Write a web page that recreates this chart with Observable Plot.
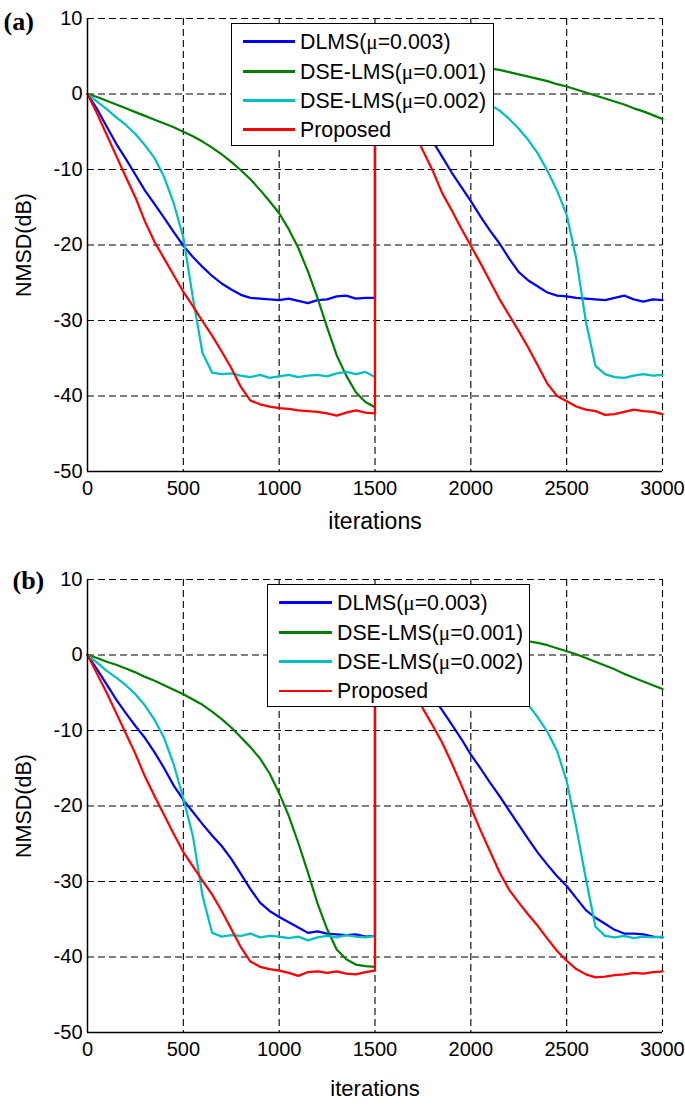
<!DOCTYPE html>
<html>
<head>
<meta charset="utf-8">
<script src="https://cdn.jsdelivr.net/npm/d3@7"></script>
<script src="https://cdn.jsdelivr.net/npm/@observablehq/plot@0.6"></script>
<style>
  html, body { margin: 0; padding: 0; background: #fff; }
  #wrap { position: relative; width: 685px; height: 1107px; overflow: hidden; font-family: "Liberation Sans", Arial, sans-serif; }
  .panel { position: absolute; left: 0; }
  .legend { position: absolute; background: #fff; border: 1.3px solid #000; box-sizing: border-box; }
  .legend .sw { position: absolute; height: 2.6px; }
  .legend .lab { position: absolute; font-size: 21.3px; white-space: nowrap; color: #000; line-height: 24px; }
  .mu { font-family: "Liberation Serif", "DejaVu Serif", serif; }
</style>
</head>
<body>
<div id="wrap">
  <div id="pa" class="panel" style="top:0"></div>
  <div id="pb" class="panel" style="top:553px"></div>
</div>
<script>
// ---- categories / tick labels ----
const seriesNames = ["DLMS(\u03bc=0.003)", "DSE-LMS(\u03bc=0.001)", "DSE-LMS(\u03bc=0.002)", "Proposed"];
const seriesColors = ["#0000ff", "#008000", "#00bfbf", "#ff0000"];
const xTicks = [0, 500, 1000, 1500, 2000, 2500, 3000];
const yTicks = [-50, -40, -30, -20, -10, 0, 10];
// iterations: 0..1500 step 50, then the change at 1500 and 1500..3000 step 50
const iters = [...d3.range(0, 1501, 50), ...d3.range(1500, 3001, 50)];

// ---- panel (a) ----
const a_dlms = [0,-2.0,-4.3,-6.6,-8.6,-10.7,-12.8,-14.6,-16.4,-18.3,-20.1,-21.6,-22.9,-24.1,-25.1,-25.9,-26.6,-27.0,-27.1,-27.2,-27.3,-27.1,-27.4,-27.7,-27.3,-27.2,-26.8,-26.7,-27.1,-27.0,-27.0,
  6.0,3.8,1.8,-0.2,-2.2,-4.2,-6.2,-8.3,-10.4,-12.3,-14.2,-16.2,-18.1,-19.8,-21.8,-23.6,-24.7,-25.5,-26.3,-26.7,-26.8,-27.0,-27.1,-27.2,-27.3,-27.0,-26.7,-27.2,-27.5,-27.2,-27.3];
const a_dse1 = [0,-0.4,-0.9,-1.4,-1.9,-2.4,-2.9,-3.4,-3.9,-4.4,-5.0,-5.6,-6.3,-7.1,-8.0,-9.0,-10.1,-11.3,-12.7,-14.2,-15.8,-17.9,-20.4,-23.5,-27.0,-30.9,-34.6,-37.3,-39.5,-40.8,-41.5,
  6.0,5.8,5.6,5.4,5.2,5.0,4.8,4.5,4.3,4.0,3.8,3.6,3.4,3.2,2.9,2.6,2.3,2.0,1.7,1.3,1.0,0.6,0.2,-0.2,-0.6,-1.0,-1.4,-1.9,-2.3,-2.8,-3.3];
const a_dse2 = [0,-1.0,-2.0,-3.1,-4.1,-5.3,-6.8,-8.5,-11.0,-14.5,-19.0,-27.0,-34.3,-36.9,-37.1,-37.0,-37.3,-37.5,-37.2,-37.6,-37.4,-37.2,-37.5,-37.3,-37.2,-37.4,-37.0,-36.8,-37.1,-36.8,-37.5,
  6.0,5.6,5.1,4.6,4.0,3.4,2.8,2.1,1.4,0.7,0.0,-0.7,-1.4,-2.2,-3.3,-4.6,-6.1,-7.9,-10.2,-12.8,-16.0,-21.8,-30.1,-36.0,-37.1,-37.5,-37.6,-37.3,-37.1,-37.3,-37.2];
const a_prop = [0,-2.6,-5.4,-8.2,-11.0,-13.7,-16.9,-19.6,-21.8,-24.0,-26.2,-28.1,-30.1,-32.0,-34.1,-36.3,-38.8,-40.6,-41.1,-41.4,-41.6,-41.7,-41.9,-42.0,-42.1,-42.3,-42.6,-42.2,-41.9,-42.2,-42.3,
  6.0,3.3,0.6,-2.1,-4.8,-7.5,-10.1,-13.1,-15.4,-17.8,-20.1,-22.4,-24.8,-27.2,-29.3,-31.4,-33.6,-36.0,-38.4,-40.0,-40.7,-41.4,-41.8,-42.0,-42.5,-42.4,-42.1,-41.8,-42.0,-42.1,-42.4];

// ---- panel (b) ----
const b_dlms = [0,-1.9,-3.9,-5.9,-7.7,-9.4,-11.0,-12.9,-15.0,-17.3,-19.2,-20.8,-22.4,-23.9,-25.3,-27.0,-29.0,-31.0,-32.8,-33.9,-34.7,-35.4,-36.1,-36.8,-36.6,-36.9,-37.0,-37.1,-37.0,-37.3,-37.2,
  6.0,4.1,2.2,0.3,-1.6,-3.5,-5.4,-7.3,-9.2,-11.1,-13.2,-15.0,-16.9,-18.7,-20.6,-22.5,-24.4,-26.2,-27.8,-29.3,-30.6,-32.2,-33.8,-34.8,-35.6,-36.4,-36.9,-36.9,-37.0,-37.3,-37.4];
const b_dse1 = [0,-0.4,-0.9,-1.3,-1.8,-2.3,-2.9,-3.4,-4.0,-4.6,-5.2,-5.9,-6.6,-7.5,-8.5,-9.6,-10.9,-12.2,-13.7,-15.7,-18.3,-21.3,-24.9,-28.8,-32.9,-36.3,-39.0,-40.3,-41.0,-41.2,-41.3,
  6.0,5.7,5.4,5.1,4.8,4.5,4.2,3.9,3.6,3.4,3.1,2.9,2.7,2.4,2.2,2.0,1.8,1.6,1.3,0.9,0.5,0.1,-0.4,-0.9,-1.4,-1.9,-2.5,-3.0,-3.5,-4.0,-4.5];
const b_dse2 = [0,-1.0,-2.1,-3.0,-4.0,-5.2,-6.7,-8.6,-11.0,-14.5,-19.0,-24.0,-31.9,-36.8,-37.3,-37.1,-37.2,-36.9,-37.4,-37.2,-37.3,-37.5,-37.3,-37.8,-37.4,-37.2,-37.4,-37.1,-37.3,-37.4,-37.2,
  6.0,5.6,5.2,4.7,4.2,3.7,3.1,2.5,1.9,1.2,0.5,-0.3,-1.2,-2.2,-3.4,-4.9,-6.6,-8.3,-10.2,-12.7,-16.7,-22.8,-29.6,-36.0,-37.2,-37.4,-37.2,-37.5,-37.3,-37.4,-37.3];
const b_prop = [0,-2.5,-5.0,-7.7,-10.4,-13.1,-16.1,-18.7,-21.2,-23.7,-26.1,-28.0,-29.9,-31.7,-33.9,-36.3,-38.7,-40.6,-41.3,-41.6,-41.8,-42.1,-42.5,-42.0,-41.9,-42.1,-41.9,-42.2,-42.3,-42.0,-41.8,
  6.0,3.4,0.8,-1.8,-4.5,-7.1,-9.3,-11.6,-14.3,-17.2,-20.2,-23.2,-26.0,-28.8,-31.1,-32.8,-34.4,-35.9,-37.6,-39.2,-40.5,-41.6,-42.3,-42.7,-42.6,-42.4,-42.3,-42.1,-42.2,-42.0,-41.9];

function tidy(seriesArrays) {
  const rows = [];
  seriesArrays.forEach((arr, k) => arr.forEach((v, i) => rows.push({it: iters[i], v, s: seriesNames[k]})));
  return rows;
}

function panel(data, opts) {
  return Plot.plot({
    width: 685,
    height: opts.height,
    marginLeft: 87,
    marginRight: 23,
    marginTop: opts.mt,
    marginBottom: opts.mb,
    style: {fontFamily: '"Liberation Sans", Arial, sans-serif', fontSize: "20px", background: "#fff", color: "#000", overflow: "visible"},
    x: {domain: [0, 3000]},
    y: {domain: [-50, 10]},
    color: {domain: seriesNames, range: seriesColors},
    marks: [
      Plot.gridX(xTicks.filter(d => d > 0), {stroke: "#000", strokeOpacity: 1, strokeWidth: 1.1, strokeDasharray: "7,4"}),
      Plot.gridY(yTicks.filter(d => d > -50), {stroke: "#000", strokeOpacity: 1, strokeWidth: 1.1, strokeDasharray: "7,4"}),
      Plot.line(data, {x: "it", y: "v", z: "s", stroke: "s", strokeWidth: 2.2, strokeLinejoin: "round"}),
      Plot.ruleX([0], {stroke: "#000", strokeWidth: 1.5}),
      Plot.ruleY([-50], {stroke: "#000", strokeWidth: 1.5}),
      Plot.axisX({ticks: xTicks, tickSize: 0, tickPadding: 9, label: null, tickFormat: d => String(d)}),
      Plot.axisY({ticks: yTicks, tickSize: 0, tickPadding: 5, label: null, tickFormat: d => String(d)}),
      Plot.text(["iterations"], {frameAnchor: "bottom", dy: opts.xlabDy, lineAnchor: "middle", fontSize: opts.xlabSize}),
      Plot.text(["NMSD(dB)"], {frameAnchor: "left", dx: -63, rotate: -90, lineAnchor: "middle", textAnchor: "middle", fontSize: 21.5}),
      Plot.text([opts.tag], {frameAnchor: "top-left", dx: opts.tagDx, dy: opts.tagDy, textAnchor: "start", lineAnchor: "middle",
        fontFamily: '"Liberation Serif", "Times New Roman", serif', fontWeight: "bold", fontSize: 26})
    ]
  });
}

document.getElementById("pa").appendChild(panel(tidy([a_dlms, a_dse1, a_dse2, a_prop]),
  {height: 553, mt: 18, mb: 82, xlabDy: 50, xlabSize: 23, tag: "(a)", tagDx: -84, tagDy: 3}));
document.getElementById("pb").appendChild(panel(tidy([b_dlms, b_dse1, b_dse2, b_prop]),
  {height: 554, mt: 26, mb: 75, xlabDy: 56, xlabSize: 22, tag: "(b)", tagDx: -75, tagDy: 1}));

function legend(left, top, width, height, rowTops, lineX0, lineX1, textX) {
  const box = document.createElement("div");
  box.className = "legend";
  Object.assign(box.style, {left: left + "px", top: top + "px", width: width + "px", height: height + "px"});
  seriesNames.forEach((name, k) => {
    const sw = document.createElement("div");
    sw.className = "sw";
    Object.assign(sw.style, {left: lineX0 + "px", width: (lineX1 - lineX0) + "px", top: (rowTops[k] - 1.3) + "px", background: seriesColors[k]});
    box.appendChild(sw);
    const lab = document.createElement("div");
    lab.className = "lab";
    lab.style.left = textX + "px";
    lab.style.top = (rowTops[k] - 12) + "px";
    const parts = name.split("\u03bc");
    if (parts.length === 2) {
      lab.append(parts[0]);
      const mu = document.createElement("span"); mu.className = "mu"; mu.textContent = "\u03bc";
      lab.append(mu, parts[1]);
    } else lab.textContent = name;
    box.appendChild(lab);
  });
  document.getElementById("wrap").appendChild(box);
}
legend(231, 23, 263, 123, [17.7, 47.7, 76.5, 105.5], 11, 63, 68);
legend(267, 584, 263, 123, [17.7, 47.7, 76.7, 106], 11, 64, 69);
</script>
</body>
</html>
